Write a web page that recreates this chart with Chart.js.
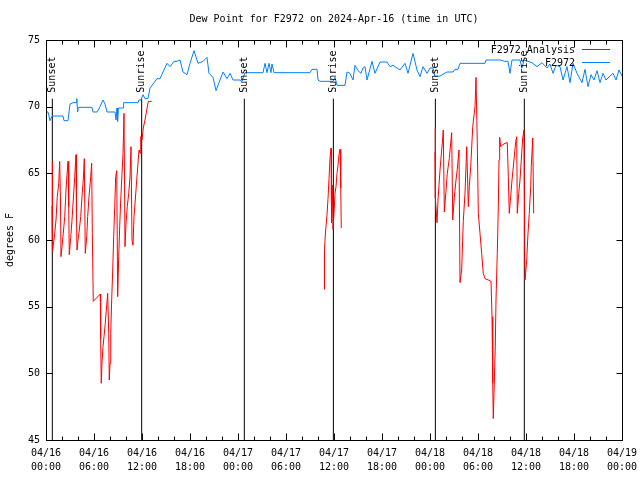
<!DOCTYPE html>
<html>
<head>
<meta charset="utf-8">
<title>Dew Point for F2972</title>
<script src="https://cdn.jsdelivr.net/npm/chart.js@4/dist/chart.umd.min.js"></script>
<style>
  html, body { margin: 0; padding: 0; background: #fff; }
  canvas { display: block; }
</style>
</head>
<body>
<canvas id="dewChart" width="640" height="480"></canvas>
<script>
// Valores (eixo x em horas desde 04/16 00:00 UTC)
const obsHours = [0, 0.25, 0.5, 0.75, 2.125, 2.25, 2.75, 3.0, 3.375, 3.75,
  3.85, 3.95, 4.05, 5.75, 5.875, 6.375, 6.75, 7.125, 7.375, 7.625,
  8.625, 8.75, 8.875, 8.95, 9.05, 9.625, 9.7, 11.5, 11.625, 11.875,
  12.125, 12.375, 12.75, 13.0, 13.375, 13.875, 14.25, 14.625, 15.125, 15.5,
  16.0, 16.375, 16.75, 17.125, 17.625, 18.0, 18.5, 19.0, 19.625, 20.125,
  20.375, 20.875, 21.25, 21.75, 22.125, 22.625, 23.0, 23.375, 24.25, 24.5,
  24.875, 27.125, 27.375, 27.625, 27.875, 28.125, 28.25, 28.5, 33.0, 33.25,
  33.875, 34.0, 34.25, 35.875, 36.125, 36.375, 37.375, 37.625, 38.0, 38.375,
  38.625, 39.0, 39.375, 39.625, 39.875, 40.125, 40.75, 41.125, 41.75, 42.625,
  43.0, 43.375, 44.25, 44.875, 45.25, 45.875, 46.375, 46.75, 47.125, 47.625,
  48.0, 48.375, 48.625, 49.25, 50.125, 50.875, 51.125, 51.5, 51.75, 54.875,
  55.0, 56.75, 57.375, 57.75, 58.0, 58.25, 59.25, 59.5, 59.75, 60.25,
  60.75, 61.375, 62.0, 62.625, 63.0, 63.375, 63.75, 64.25, 64.625, 65.125,
  65.5, 65.875, 66.375, 67.0, 67.375, 67.75, 68.125, 68.5, 68.875, 69.25,
  69.625, 70.0, 70.5, 70.875, 71.25, 71.625, 72.0];
const obsDew = [69.6, 69.6, 68.95, 69.3, 69.3, 68.95, 68.95, 70.2, 70.3, 70.3,
  70.6, 69.6, 69.95, 69.95, 69.6, 69.6, 70.0, 70.5, 70.2, 69.6,
  69.6, 69.0, 69.9, 68.9, 69.9, 69.9, 70.3, 70.3, 70.5, 70.5,
  70.9, 70.6, 70.6, 71.4, 71.7, 72.1, 72.1, 72.6, 73.25, 73.0,
  73.4, 73.4, 73.5, 72.6, 72.4, 73.25, 74.2, 73.25, 73.4, 73.7,
  72.5, 72.2, 71.2, 72.0, 72.6, 72.1, 72.5, 72.0, 72.0, 71.9,
  72.55, 72.55, 73.25, 72.55, 73.25, 72.55, 73.2, 72.55, 72.55, 72.8,
  72.8, 72.0, 71.9, 71.9, 72.2, 71.6, 71.6, 72.6, 72.5, 72.0,
  73.1, 72.7, 72.5, 72.9, 73.0, 72.0, 73.4, 72.5, 73.35, 73.35,
  73.0, 73.1, 72.75, 73.25, 72.5, 74.0, 72.75, 72.25, 73.0, 72.5,
  72.9, 72.9, 72.25, 72.3, 72.6, 72.6, 72.8, 72.8, 73.25, 73.25,
  73.5, 73.5, 73.4, 73.4, 72.5, 73.5, 73.5, 72.9, 73.5, 73.4,
  73.3, 73.0, 73.3, 72.9, 73.2, 72.5, 73.1, 73.0, 72.0, 73.0,
  71.8, 73.25, 72.5, 71.8, 72.8, 71.5, 72.4, 72.0, 72.7, 71.8,
  72.5, 72.0, 72.3, 72.5, 72.0, 72.75, 72.3];

// Análise: três trechos separados
const anaHours1 = [0.75, 0.79, 0.82, 0.91, 1.09, 1.25, 1.41, 1.59, 1.71, 1.81,
  1.875, 2.0, 2.16, 2.34, 2.5, 2.625, 2.75, 2.84, 2.91, 3.09,
  3.25, 3.41, 3.59, 3.75, 3.81, 3.875, 4.0, 4.16, 4.34, 4.5,
  4.66, 4.79, 4.91, 5.09, 5.21, 5.375, 5.59, 5.71, 5.79, 5.91,
  6.79, 6.83, 6.91, 7.0, 7.125, 7.25, 7.41, 7.54, 7.71, 7.84,
  7.91, 8.0, 8.09, 8.21, 8.34, 8.46, 8.59, 8.71, 8.84, 8.96,
  9.09, 9.21, 9.34, 9.5, 9.625, 9.75, 9.875, 10.0, 10.16, 10.34,
  10.5, 10.625, 10.75, 10.875, 11.0, 11.16, 11.34, 11.5, 11.625, 11.75,
  11.84, 12.0, 12.16, 12.375, 12.59, 12.79, 13.21];
const anaDew1 = [62.55, 65.9, 59.1, 59.6, 60.5, 61.5, 63.25, 64.25, 65.9, 63.0,
  58.75, 59.5, 60.5, 61.75, 63.75, 64.9, 65.9, 62.5, 58.9, 60.2,
  61.5, 63.0, 64.75, 66.4, 62.0, 59.25, 60.0, 60.75, 61.75, 63.25,
  64.5, 66.1, 59.0, 60.25, 61.75, 63.25, 64.75, 65.75, 60.5, 55.4,
  55.95, 52.6, 49.25, 50.8, 52.0, 52.75, 53.75, 54.75, 56.0, 53.0,
  49.5, 50.75, 53.0, 55.5, 57.75, 60.25, 62.5, 64.75, 65.2, 55.75,
  58.75, 61.0, 63.0, 65.0, 66.5, 69.5, 59.5, 61.25, 62.5, 63.5,
  64.75, 67.0, 60.0, 59.6, 61.75, 63.0, 64.5, 65.75, 66.75, 66.5,
  67.75, 67.5, 68.4, 69.0, 69.75, 70.4, 70.4];
const anaHours2 = [34.75, 34.81, 34.94, 35.125, 35.25, 35.375, 35.5, 35.625, 35.69, 35.79,
  35.875, 36.0, 36.125, 36.25, 36.375, 36.5, 36.625, 36.75, 36.84, 36.91];
const anaDew2 = [56.3, 59.3, 60.6, 61.9, 63.1, 64.6, 66.1, 66.9, 61.3, 64.1,
  60.8, 62.0, 63.5, 64.0, 65.0, 65.6, 66.4, 66.8, 63.9, 60.9];
const anaHours3 = [48.625, 48.65, 48.69, 48.875, 49.0, 49.25, 49.46, 49.59, 49.66, 49.79,
  50.0, 50.16, 50.41, 50.59, 50.71, 50.84, 51.04, 51.25, 51.41, 51.625,
  51.75, 51.96, 52.16, 52.375, 52.59, 52.79, 52.91, 53.09, 53.34, 53.625,
  53.75, 53.91, 54.04, 54.25, 54.46, 54.66, 54.875, 55.29, 55.625, 55.75,
  55.84, 55.91, 56.0, 56.16, 56.25, 56.41, 56.54, 56.625, 56.71, 56.84,
  56.96, 57.375, 57.66, 57.79, 57.91, 58.09, 58.25, 58.5, 58.71, 58.84,
  58.91, 59.09, 59.25, 59.41, 59.59, 59.75, 59.875, 60.09, 60.25, 60.41,
  60.59, 60.66, 60.84, 60.96];
const anaDew3 = [66.6, 68.4, 63.15, 61.3, 63.0, 65.25, 66.75, 67.65, 68.25, 62.1,
  63.7, 65.0, 66.1, 67.3, 68.05, 61.5, 63.2, 64.5, 65.3, 66.75,
  56.8, 57.75, 61.4, 63.5, 67.0, 62.5, 64.0, 65.5, 68.5, 70.0,
  72.2, 67.3, 62.0, 60.5, 59.0, 57.5, 57.1, 57.0, 56.9, 54.25,
  49.25, 46.6, 48.5, 52.0, 55.5, 59.0, 62.5, 66.0, 67.7, 67.0,
  67.1, 67.25, 67.3, 64.75, 62.0, 63.3, 64.5, 66.0, 67.4, 67.75,
  62.0, 63.5, 64.5, 66.0, 67.65, 68.25, 57.0, 58.5, 60.5, 62.0,
  64.0, 65.5, 67.65, 62.0];

// Nascer / pôr do sol
const sunHours = [0.79, 11.96, 24.79, 35.92, 48.67, 59.79];
const sunLabels = ['Sunset', 'Sunrise', 'Sunset', 'Sunrise', 'Sunset', 'Sunrise'];
const sunTop = 70.6;
const yMin = 45;

// Rótulos do eixo x
const xTickDates = ['04/16', '04/16', '04/16', '04/16', '04/17', '04/17', '04/17',
  '04/17', '04/18', '04/18', '04/18', '04/18', '04/19'];
const xTickTimes = ['00:00', '06:00', '12:00', '18:00', '00:00', '06:00', '12:00',
  '18:00', '00:00', '06:00', '12:00', '18:00', '00:00'];

const FONT = 'DejaVu Sans Mono';
Chart.defaults.font.family = FONT;
Chart.defaults.font.size = 10;
Chart.defaults.color = '#000';

function toPoints(hours, values) {
  return hours.map((h, i) => ({ x: h, y: values[i] }));
}

const analysisData = toPoints(anaHours1, anaDew1)
  .concat([{ x: 20, y: null }], toPoints(anaHours2, anaDew2))
  .concat([{ x: 42, y: null }], toPoints(anaHours3, anaDew3));

const sunData = [];
sunHours.forEach(h => {
  sunData.push({ x: h, y: yMin }, { x: h, y: sunTop }, { x: h, y: null });
});

// Moldura, marcas de escala, rótulos do sol e legenda no estilo gnuplot
const gnuplotDecor = {
  id: 'gnuplotDecor',
  afterDatasetsDraw(chart) {
    const { ctx, chartArea: a, scales: { x, y } } = chart;
    const L = Math.round(a.left) + 0.5, R = Math.round(a.right) + 0.5;
    const T = Math.round(a.top) + 0.5, B = Math.round(a.bottom) + 0.5;
    ctx.save();
    ctx.strokeStyle = '#000';
    ctx.lineWidth = 1;
    ctx.beginPath();
    // marcas do eixo x (maiores + menores em terços)
    const xt = x.ticks.map(t => t.value);
    xt.forEach((v, i) => {
      const px = Math.round(x.getPixelForValue(v)) + 0.5;
      ctx.moveTo(px, B); ctx.lineTo(px, B - 7);
      ctx.moveTo(px, T); ctx.lineTo(px, T + 7);
      if (i < xt.length - 1) {
        const step = (xt[i + 1] - v) / 3;
        for (let k = 1; k < 3; k++) {
          const mx = Math.round(x.getPixelForValue(v + step * k)) + 0.5;
          ctx.moveTo(mx, B); ctx.lineTo(mx, B - 4);
          ctx.moveTo(mx, T); ctx.lineTo(mx, T + 4);
        }
      }
    });
    // marcas do eixo y
    y.ticks.forEach(t => {
      const py = Math.round(y.getPixelForValue(t.value)) + 0.5;
      ctx.moveTo(L, py); ctx.lineTo(L + 6, py);
      ctx.moveTo(R, py); ctx.lineTo(R - 6, py);
    });
    ctx.stroke();
    ctx.strokeRect(L, T, R - L, B - T);

    // rótulos Sunset / Sunrise
    ctx.fillStyle = '#000';
    ctx.font = '10px "' + FONT + '"';
    ctx.textAlign = 'left';
    ctx.textBaseline = 'middle';
    sunHours.forEach((h, i) => {
      const px = x.getPixelForValue(h);
      const py = y.getPixelForValue(sunTop);
      ctx.save();
      ctx.translate(px, py - 6);
      ctx.rotate(-Math.PI / 2);
      ctx.fillText(sunLabels[i], 0, 0);
      ctx.restore();
    });

    // legenda
    ctx.textAlign = 'right';
    const legendSets = chart.data.datasets.filter(d => d.inLegend);
    legendSets.forEach((d, i) => {
      const ly = Math.round(a.top + 9 + i * 13) + 0.5;
      ctx.fillStyle = '#000';
      ctx.fillText(d.label, a.right - 47, ly + 1);
      ctx.strokeStyle = d.borderColor;
      ctx.beginPath();
      ctx.moveTo(a.right - 40, ly);
      ctx.lineTo(a.right - 12, ly);
      ctx.stroke();
    });
    ctx.restore();
  }
};

const dewCtx = document.getElementById('dewChart').getContext('2d');
const dewChart = new Chart(dewCtx, {
  type: 'line',
  data: {
    datasets: [{
      label: 'F2972 Analysis',
      inLegend: true,
      data: analysisData,
      borderColor: '#ff0000',
      borderWidth: 1,
      pointRadius: 0,
      spanGaps: false
    }, {
      label: 'F2972',
      inLegend: true,
      data: toPoints(obsHours, obsDew),
      borderColor: '#0080ff',
      borderWidth: 1,
      pointRadius: 0
    }, {
      label: 'sun',
      inLegend: false,
      data: sunData,
      borderColor: '#000',
      borderWidth: 1,
      pointRadius: 0,
      spanGaps: false
    }]
  },
  options: {
    responsive: false,
    animation: false,
    layout: { padding: { left: 0, right: 18, top: 0, bottom: 0 } },
    plugins: {
      legend: { display: false },
      tooltip: { enabled: false },
      title: {
        display: true,
        fullSize: false,
        text: 'Dew Point for F2972 on 2024-Apr-16 (time in UTC)',
        color: '#000',
        font: { family: FONT, size: 10, weight: 'normal', lineHeight: 1.2 },
        padding: { top: 13, bottom: 15 }
      }
    },
    scales: {
      x: {
        type: 'linear',
        min: 0,
        max: 72,
        grid: { display: false, drawTicks: false },
        border: { display: false },
        ticks: {
          stepSize: 6,
          autoSkip: false,
          maxRotation: 0,
          padding: 6,
          font: { family: FONT, size: 10, lineHeight: 1.4 },
          callback: (value, index) => [xTickDates[index], xTickTimes[index]]
        },
        afterFit: scale => {
          scale.height = 40;
          scale.paddingLeft = 0;
          scale.paddingRight = 0;
        }
      },
      y: {
        min: 45,
        max: 75,
        grid: { display: false, drawTicks: false },
        border: { display: false },
        ticks: {
          stepSize: 5,
          padding: 6,
          font: { family: FONT, size: 10 }
        },
        title: {
          display: true,
          text: 'degrees F',
          font: { family: FONT, size: 10, lineHeight: 1.2 },
          padding: { top: 4, bottom: 0 }
        },
        afterFit: scale => {
          scale.width = 46;
          scale.paddingTop = 0;
          scale.paddingBottom = 0;
        }
      }
    }
  },
  plugins: [gnuplotDecor]
});
</script>
</body>
</html>
